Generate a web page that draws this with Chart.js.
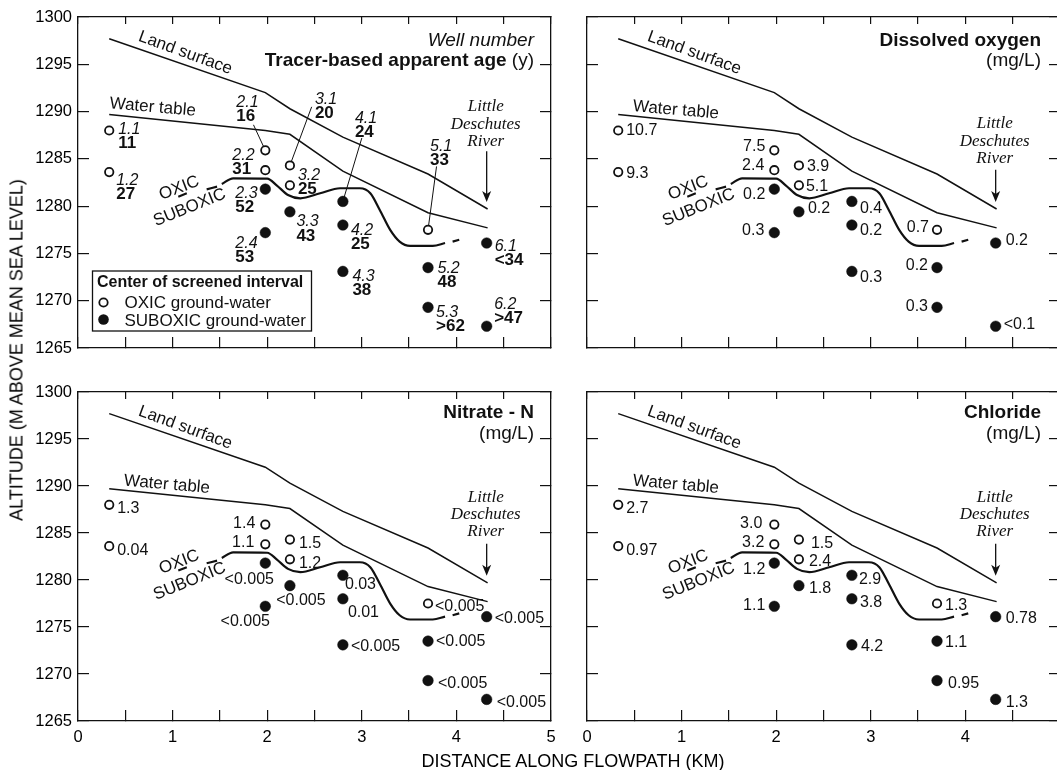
<!DOCTYPE html>
<html>
<head>
<meta charset="utf-8">
<title>Ground-water chemistry along the flowpath</title>
<script src="https://cdn.jsdelivr.net/npm/chart.js@4.4.1/dist/chart.umd.min.js"></script>
<style>
  html, body { margin: 0; padding: 0; background: #fff; overflow: hidden; }
  body { width: 1057px; height: 770px; position: relative; font-family: "Liberation Sans", Arial, sans-serif; color: #000; }
  canvas { position: absolute; }
  #ytitle { position: absolute; left: 17px; top: 350px; transform: translate(-50%, -50%) rotate(-90deg); white-space: nowrap; font-size: 18px; }
  #xtitle { position: absolute; left: 573px; top: 761px; transform: translate(-50%, -50%); white-space: nowrap; font-size: 18px; }
</style>
</head>
<body>
<canvas id="age" width="560" height="362" style="left:0;top:0"></canvas>
<canvas id="oxygen" width="500" height="362" style="left:570px;top:0"></canvas>
<canvas id="nitrate" width="560" height="390" style="left:0;top:380px"></canvas>
<canvas id="chloride" width="500" height="390" style="left:570px;top:380px"></canvas>
<div id="ytitle">ALTITUDE (M ABOVE MEAN SEA LEVEL)</div>
<div id="xtitle">DISTANCE ALONG FLOWPATH (KM)</div>
<script>
// wells, position of the screened interval and what was measured there
const wells = ['1.1', '1.2', '2.1', '2.2', '2.3', '2.4', '3.1', '3.2', '3.3', '4.1', '4.2', '4.3', '5.1', '5.2', '5.3', '6.1', '6.2'];
const distanceKm = [0.33, 0.33, 1.98, 1.98, 1.98, 1.98, 2.24, 2.24, 2.24, 2.80, 2.80, 2.80, 3.70, 3.70, 3.70, 4.32, 4.32];
const altitudeM = [1288.0, 1283.6, 1285.9, 1283.8, 1281.8, 1277.2, 1284.3, 1282.2, 1279.4, 1280.5, 1278.0, 1273.1, 1277.5, 1273.5, 1269.3, 1276.1, 1267.3];
const oxic = [1, 1, 1, 1, 0, 0, 1, 1, 0, 0, 0, 0, 1, 0, 0, 0, 0];

const apparentAge = ['11', '27', '16', '31', '52', '53', '20', '25', '43', '24', '25', '38', '33', '48', '>62', '<34', '>47'];
const dissolvedOxygen = ['10.7', '9.3', '7.5', '2.4', '0.2', '0.3', '3.9', '5.1', '0.2', '0.4', '0.2', '0.3', '0.7', '0.2', '0.3', '0.2', '<0.1'];
const nitrateN = ['1.3', '0.04', '1.4', '1.1', '<0.005', '<0.005', '1.5', '1.2', '<0.005', '0.03', '0.01', '<0.005', '<0.005', '<0.005', '<0.005', '<0.005', '<0.005'];
const chlorideMg = ['2.7', '0.97', '3.0', '3.2', '1.2', '1.1', '1.5', '2.4', '1.8', '2.9', '3.8', '4.2', '1.3', '1.1', '0.95', '0.78', '1.3'];

// profiles
const landKm = [0.33, 1.98, 2.24, 2.80, 3.70, 4.33];
const landAlt = [1297.7, 1292.0, 1290.3, 1287.3, 1283.4, 1279.7];
const waterKm = [0.33, 1.98, 2.24, 2.80, 3.70, 4.33];
const waterAlt = [1289.7, 1288.0, 1287.6, 1283.7, 1279.3, 1277.7];
// oxic / suboxic boundary (null = gap between dashes)
const boundaryKm = [1.06, 1.15, 1.25, 1.36, 1.47, 1.50, 1.52, 1.64, 2.00, 2.10, 2.22, 2.35, 2.56, 2.77, 2.98, 3.09, 3.19, 3.30, 3.40, 3.51, 3.75, 3.88, 3.92, 3.96, 4.03];
const boundaryAlt = [1281.0, 1281.36, null, 1281.78, 1282.06, null, 1282.34, 1282.94, 1282.9, 1282.2, 1281.18, 1280.83, 1281.36, 1281.89, 1281.89, 1281.36, 1279.6, 1277.49, 1276.25, 1275.8, 1275.8, 1276.1, null, 1276.25, 1276.45];
// leader lines from age labels to wells
const leaderWell = [2, 6, 9, 12];
const leaderKm = [1.855, 2.47, 3.00, 3.79];
const leaderAlt = [1288.6, 1290.5, 1287.2, 1284.2];

const xMajorTicks = [0, 1, 2, 3, 4, 5];
const xMinorTicks = [0.5, 1.5, 2.5, 3.5, 4.5];
const yTicks = [1265, 1270, 1275, 1280, 1285, 1290, 1295, 1300];

// label placement: [align, dx, dy] in pixels from the well
const placeO2 = [['l', 8, 0], ['l', 8, 1], ['r', -9, -4], ['r', -10, -5], ['r', -9, 5], ['r', -10, -2], ['l', 8, 1], ['l', 7, 1], ['l', 9, -3], ['l', 8, 7], ['l', 8, 6], ['l', 8, 6], ['r', -8, -2], ['r', -9, -2], ['r', -9, -1], ['l', 10, -2], ['l', 8, -2]];
const placeNO3 = [['l', 8, 4], ['l', 8, 4], ['r', -10, -1], ['r', -11, -2], ['c', -16, 17], ['c', -20, 15], ['l', 9, 4], ['l', 9, 4], ['c', 11, 15], ['l', 2, 9], ['l', 5, 14], ['l', 8, 2], ['l', 7, 3], ['l', 8, 0], ['l', 10, 3], ['l', 8, 2], ['l', 10, 3]];
const placeCl = [['l', 8, 4], ['l', 8, 4], ['r', -12, -1], ['r', -10, -2], ['r', -9, 7], ['r', -9, -1], ['l', 12, 4], ['l', 10, 2], ['l', 10, 3], ['l', 7, 4], ['l', 8, 4], ['l', 9, 2], ['l', 8, 2], ['l', 8, 1], ['l', 11, 3], ['l', 10, 2], ['l', 10, 3]];
const placeAge = [[9, -1], [7, 8], [-29, -48], [-33, -15], [-30, 4], [-30, 11], [25, -66], [8, -10], [6.5, 10], [12, -83], [8, 5], [9.5, 5], [2, -83], [9.5, 1], [8, 5], [8, 3.5], [7.5, -21.5]];

const F = '"Liberation Sans", Arial, Helvetica, sans-serif';
const SERIF = '"Liberation Serif", "Times New Roman", serif';
const INK = '#111';

function xy(xs, ys) {
  return xs.map((x, i) => ({ x: x, y: ys[i] }));
}

function wellPoints(flag) {
  return wells.map((w, i) => ({ x: distanceKm[i], y: altitudeM[i], o: oxic[i] })).filter(p => p.o === flag);
}

function drawText(ctx, text, x, y, font, align, angle) {
  ctx.save();
  ctx.translate(x, y);
  if (angle) ctx.rotate(angle * Math.PI / 180);
  ctx.font = font;
  ctx.textAlign = align || 'center';
  ctx.textBaseline = 'middle';
  ctx.fillText(text, 0, 0);
  ctx.restore();
}

function panelText(cfg) {
  return {
    id: 'panelText',
    afterDatasetsDraw(chart) {
      const ctx = chart.ctx, a = chart.chartArea;
      const px = v => chart.scales.x.getPixelForValue(v);
      const py = v => chart.scales.y.getPixelForValue(v);
      ctx.save();
      ctx.fillStyle = INK;
      ctx.strokeStyle = INK;

      drawText(ctx, 'Land surface', px(1.135), py(1296.2), `17px ${F}`, 'center', 20);
      drawText(ctx, 'Water table', px(cfg.waterText[0]), py(cfg.waterText[1]), `17px ${F}`, 'center', 5);
      drawText(ctx, 'OXIC', px(1.07), py(1281.9), `17px ${F}`, 'center', -21);
      drawText(ctx, 'SUBOXIC', px(1.18), py(1279.85), `17px ${F}`, 'center', -22);

      // river and arrow
      const rx = px(4.31), top = cfg.river[0];
      ['Little', 'Deschutes', 'River'].forEach((t, k) => {
        drawText(ctx, t, rx, py(top) + k * 17.3, `italic 17px ${SERIF}`, 'center');
      });
      const ax = px(4.32), ay0 = py(cfg.river[1]), ay1 = py(1280.45);
      ctx.lineWidth = 1.3;
      ctx.beginPath(); ctx.moveTo(ax, ay0); ctx.lineTo(ax, ay1 - 6); ctx.stroke();
      ctx.beginPath(); ctx.moveTo(ax, ay1); ctx.lineTo(ax - 4.5, ay1 - 11); ctx.lineTo(ax, ay1 - 8); ctx.lineTo(ax + 4.5, ay1 - 11); ctx.closePath(); ctx.fill();

      // title, top right
      const tr = a.right - cfg.titleRight;
      if (cfg.kind === 'age') {
        drawText(ctx, 'Well number', tr, a.top + cfg.titleDy[0], `italic 19px ${F}`, 'right');
        ctx.font = `19px ${F}`;
        const uw = ctx.measureText(' (y)').width;
        drawText(ctx, ' (y)', tr, a.top + cfg.titleDy[1], `19px ${F}`, 'right');
        drawText(ctx, 'Tracer-based apparent age', tr - uw, a.top + cfg.titleDy[1], `bold 19px ${F}`, 'right');
      } else {
        drawText(ctx, cfg.title, tr, a.top + cfg.titleDy[0], `bold 19px ${F}`, 'right');
        drawText(ctx, '(mg/L)', tr, a.top + cfg.titleDy[1], `19px ${F}`, 'right');
      }

      // well labels
      wells.forEach((w, i) => {
        const x0 = px(distanceKm[i]), y0 = py(altitudeM[i]);
        if (cfg.kind === 'age') {
          const [dx, dy] = placeAge[i];
          drawText(ctx, w, x0 + dx, y0 + dy, `italic 16px ${F}`, 'left');
          drawText(ctx, apparentAge[i], x0 + dx, y0 + dy + 14, `bold 17px ${F}`, 'left');
        } else {
          const [al, dx, dy] = cfg.place[i];
          const align = al === 'l' ? 'left' : (al === 'r' ? 'right' : 'center');
          drawText(ctx, cfg.values[i], x0 + dx, y0 + dy, `16px ${F}`, align);
        }
      });

      // legend box
      if (cfg.kind === 'age') {
        const bx = a.left + 14.5, by = a.top + 254;
        ctx.fillStyle = '#fff';
        ctx.fillRect(bx, by, 219, 60);
        ctx.fillStyle = INK;
        ctx.lineWidth = 1.3;
        ctx.strokeRect(bx, by, 219, 60);
        drawText(ctx, 'Center of screened interval', bx + 4.5, by + 12, `bold 16px ${F}`, 'left');
        ctx.lineWidth = 1.8;
        ctx.beginPath(); ctx.arc(bx + 11, by + 31.5, 4.2, 0, Math.PI * 2); ctx.stroke();
        ctx.beginPath(); ctx.arc(bx + 11, by + 48.5, 5.3, 0, Math.PI * 2); ctx.fill();
        drawText(ctx, 'OXIC ground-water', bx + 32, by + 32, `17px ${F}`, 'left');
        drawText(ctx, 'SUBOXIC ground-water', bx + 32, by + 50, `17px ${F}`, 'left');
      }
      ctx.restore();
    }
  };
}

function makePanel(id, cfg) {
  const grid = len => ({ drawOnChartArea: false, drawTicks: true, tickLength: len, color: INK, lineWidth: 1.2 });
  const border = { display: true, color: INK, width: 1.3 };
  const xTicks = xMajorTicks.concat(xMinorTicks).sort((p, q) => p - q);
  const shownX = cfg.xShown || xMajorTicks;
  const setX = s => { s.ticks = xTicks.map(v => ({ value: v })); };
  const setY = s => { s.ticks = yTicks.map(v => ({ value: v })); };
  const noPad = s => { s.paddingLeft = 0; s.paddingRight = 0; s.paddingTop = 0; s.paddingBottom = 0; };
  const lineDs = (data, width, extra) => Object.assign({
    data: data, showLine: true, pointRadius: 0, borderColor: INK, borderWidth: width,
    fill: false, xAxisID: 'x', yAxisID: 'y'
  }, extra || {});

  const datasets = [
    { data: wellPoints(1), showLine: false, pointRadius: 4.2, pointBorderWidth: 1.8, pointBackgroundColor: '#fff', pointBorderColor: INK, xAxisID: 'x', yAxisID: 'y' },
    { data: wellPoints(0), showLine: false, pointRadius: 5.3, pointBorderWidth: 0.5, pointBackgroundColor: INK, pointBorderColor: INK, xAxisID: 'x', yAxisID: 'y' }
  ];
  if (cfg.kind === 'age') {
    leaderWell.forEach((w, k) => {
      datasets.push(lineDs([{ x: leaderKm[k], y: leaderAlt[k] }, { x: distanceKm[w], y: altitudeM[w] }], 1));
    });
  }
  datasets.push(lineDs(xy(landKm, landAlt), 1.5));
  datasets.push(lineDs(xy(waterKm, waterAlt), 1.5));
  datasets.push(lineDs(xy(boundaryKm, boundaryAlt), 2.2, { cubicInterpolationMode: 'monotone', spanGaps: false }));

  new Chart(document.getElementById(id), {
    type: 'line',
    data: { datasets: datasets },
    options: {
      responsive: false,
      animation: false,
      events: [],
      layout: { padding: 0, autoPadding: false },
      plugins: { legend: { display: false }, tooltip: { enabled: false } },
      scales: {
        x: {
          type: 'linear', position: 'bottom', min: 0, max: 5,
          afterBuildTicks: setX,
          afterFit: s => { s.height = cfg.pad.b; noPad(s); },
          grid: grid(-11), border: border,
          ticks: {
            display: cfg.xLabels, padding: 18, autoSkip: false, maxRotation: 0, color: '#000',
            font: { family: F, size: 16.5 },
            callback: v => (shownX.includes(v) ? String(v) : '')
          }
        },
        xTop: {
          type: 'linear', axis: 'x', position: 'top', min: 0, max: 5,
          afterBuildTicks: setX,
          afterFit: s => { s.height = cfg.pad.t; noPad(s); },
          grid: grid(-7), border: border,
          ticks: { display: false }
        },
        y: {
          type: 'linear', position: 'left', min: 1265, max: 1300,
          afterBuildTicks: setY,
          afterFit: s => { s.width = cfg.pad.l; noPad(s); },
          grid: grid(-11), border: border,
          ticks: { display: cfg.yLabels, padding: 17, color: '#000', font: { family: F, size: 16.5 }, callback: v => String(v) }
        },
        yRight: {
          type: 'linear', axis: 'y', position: 'right', min: 1265, max: 1300,
          afterBuildTicks: setY,
          afterFit: s => { s.width = cfg.pad.r; noPad(s); },
          grid: grid(-11), border: border,
          ticks: { display: false }
        }
      }
    },
    plugins: [panelText(cfg)]
  });
}

makePanel('age', {
  kind: 'age', pad: { l: 78, r: 9, t: 17, b: 14 }, xLabels: false, yLabels: true,
  titleDy: [24, 43.5], titleRight: 17, waterText: [0.79, 1290.45], river: [1290.5, 1285.8]
});
makePanel('oxygen', {
  kind: 'value', title: 'Dissolved oxygen', values: dissolvedOxygen, place: placeO2,
  pad: { l: 17, r: 10, t: 17, b: 14 }, xLabels: false, yLabels: false,
  titleDy: [23.5, 43.5], titleRight: 19, waterText: [0.94, 1290.15], river: [1288.7, 1283.85]
});
makePanel('nitrate', {
  kind: 'value', title: 'Nitrate - N', values: nitrateN, place: placeNO3,
  pad: { l: 78, r: 9, t: 12, b: 49 }, xLabels: true, yLabels: true,
  titleDy: [21, 42], titleRight: 17, waterText: [0.94, 1290.15], river: [1288.8, 1283.85]
});
makePanel('chloride', {
  kind: 'value', title: 'Chloride', values: chlorideMg, place: placeCl,
  pad: { l: 17, r: 10, t: 12, b: 49 }, xLabels: true, yLabels: false, xShown: [0, 1, 2, 3, 4],
  titleDy: [21, 42], titleRight: 19, waterText: [0.94, 1290.15], river: [1288.8, 1283.85]
});
</script>
</body>
</html>
